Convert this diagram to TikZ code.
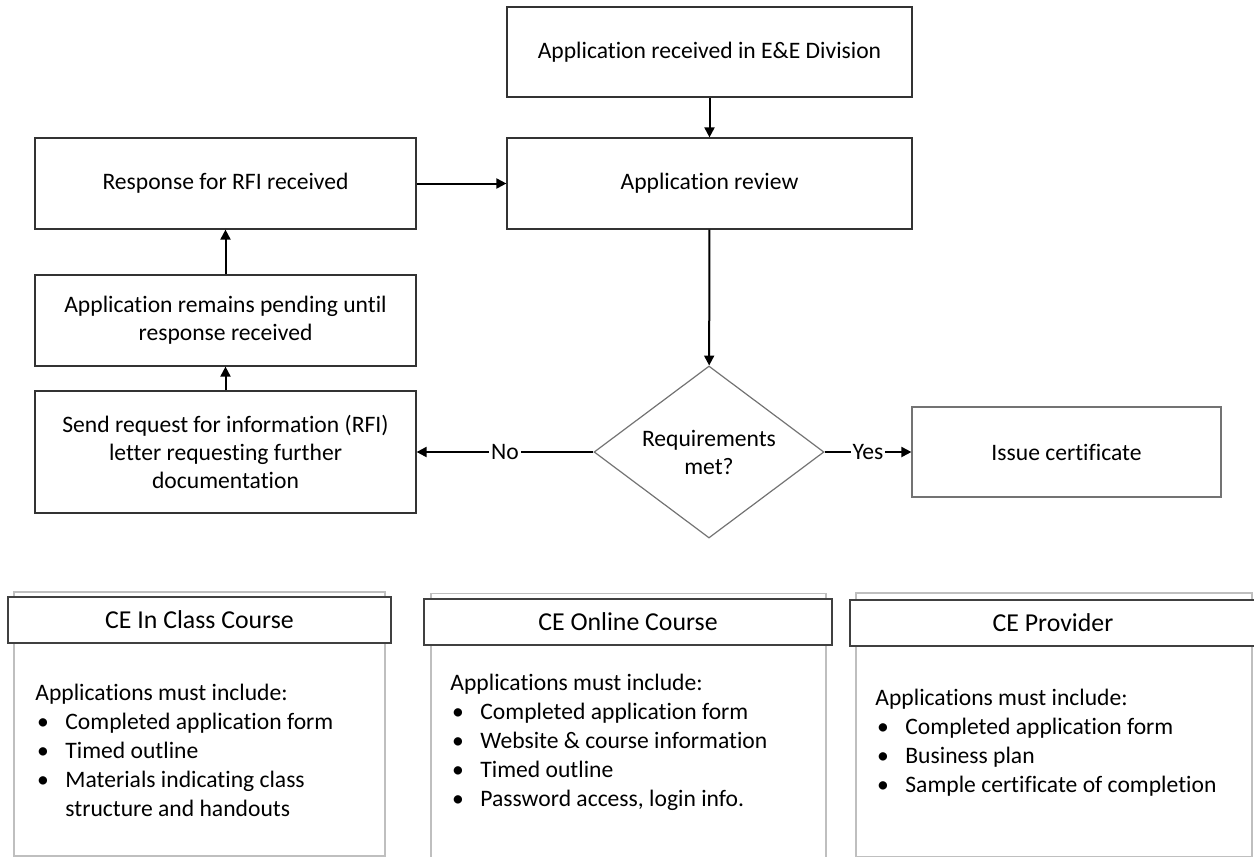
\documentclass[tikz,border=0pt]{standalone}
\usepackage{fontspec}
\setmainfont{Carlito}[Ligatures=NoCommon]
\usetikzlibrary{shapes.geometric,arrows.meta,shadows}
\newcommand{\bulletitem}[1]{\hspace*{0.8pt}\makebox[14.2pt][l]{\textbullet}#1}
\newcommand{\contline}[1]{\hspace*{15pt}#1}
\begin{document}
\begin{tikzpicture}[x=0.5pt,y=-0.5pt,
  font=\fontsize{11.8}{14}\selectfont,
  softshadow/.style={drop shadow={shadow xshift=0.6pt,shadow yshift=-0.6pt,fill=black!45,opacity=0.6}},
  flowbox/.style={draw=black!80,fill=white,line width=0.6pt,align=center,inner sep=2pt,softshadow},
  lightbox/.style={draw=black!55,fill=white,line width=0.6pt,align=center,inner sep=2pt,softshadow},
  decision/.style={diamond,draw=black!55,line width=0.6pt,align=center,inner sep=0pt,
    minimum width=115pt,minimum height=86pt,aspect=1.34},
  link/.style={line width=1pt,-{Triangle[length=5pt,width=5pt]}},
  panel/.style={draw=black!25,line width=0.6pt,inner sep=0pt},
  panelhead/.style={draw=black!75,fill=white,line width=0.6pt,inner sep=0pt,softshadow,
    font=\fontsize{12.9}{15}\selectfont},
  paneltext/.style={anchor=north west,inner sep=0pt,align=left,
    font=\fontsize{11.8}{14.5}\selectfont},
  lbl/.style={fill=white,inner sep=1pt}]
\useasboundingbox (0,0) rectangle (1254,857);

% flowchart boxes
\node[flowbox,minimum width=202.5pt,minimum height=45pt] (recv) at (709.5,52) {Application received in E\&E Division};
\node[flowbox,minimum width=202.5pt,minimum height=45.5pt] (review) at (709.5,183.5) {Application review};
\node[flowbox,minimum width=190.5pt,minimum height=45.5pt] (resp) at (225.5,183.5) {Response for RFI received};
\node[flowbox,minimum width=190.5pt,minimum height=45.5pt] (pending) at (225.5,320.5) {Application remains pending until\\response received};
\node[flowbox,minimum width=190.5pt,minimum height=61pt] (rfi) at (225.5,452) {Send request for information (RFI)\\letter requesting further\\documentation};
\node[decision] (req) at (709,452) {Requirements\\met?};
\node[lightbox,minimum width=154.5pt,minimum height=45pt] (issue) at (1066.5,452) {Issue certificate};

% connectors
\draw[link] (recv) -- (review);
\draw[link] (resp) -- (review);
\draw[link] (review) -- (req);
\draw[link] (pending) -- (resp);
\draw[link] (rfi) -- (pending);
\draw[link] (req) -- node[lbl,pos=0.5] {No} (rfi);
\draw[link] (req) -- node[lbl,pos=0.5] {Yes} (issue);

% requirement panels
\node[panel,minimum width=185.5pt,minimum height=132pt] (p1) at (199.5,724) {};
\node[panelhead,minimum width=191.5pt,minimum height=23pt] (h1) at (199.5,620) {CE In Class Course};
\node[paneltext] (t1) at (35,684) {Applications must include:\\
  \bulletitem{Completed application form}\\
  \bulletitem{Timed outline}\\
  \bulletitem{Materials indicating class}\\
  \contline{structure and handouts}};

\node[panel,minimum width=197.5pt,minimum height=132pt] (p2) at (628.5,725.5) {};
\node[panelhead,minimum width=204pt,minimum height=23pt] (h2) at (628,622) {CE Online Course};
\node[paneltext] (t2) at (450,674) {Applications must include:\\
  \bulletitem{Completed application form}\\
  \bulletitem{Website \& course information}\\
  \bulletitem{Timed outline}\\
  \bulletitem{Password access, login info.}};

\node[panel,minimum width=198pt,minimum height=132pt] (p3) at (1054,725) {};
\node[panelhead,minimum width=203pt,minimum height=23pt] (h3) at (1053,623) {CE Provider};
\node[paneltext] (t3) at (875,689) {Applications must include:\\
  \bulletitem{Completed application form}\\
  \bulletitem{Business plan}\\
  \bulletitem{Sample certificate of completion}};
\end{tikzpicture}
\end{document}
